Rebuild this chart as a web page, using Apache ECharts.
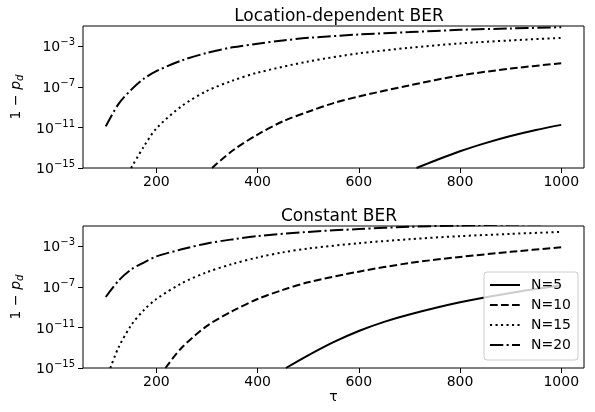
<!DOCTYPE html>
<html>
<head>
<meta charset="utf-8">
<script src="https://cdn.jsdelivr.net/npm/echarts@6/dist/echarts.min.js"></script>
<style>
  html, body { margin: 0; padding: 0; background: #fff; }
  #chart { width: 595px; height: 412px; }
</style>
</head>
<body>
<div id="chart"></div>
<script>
const seriesNames = ['N=5', 'N=10', 'N=15', 'N=20'];
const xTicks = [200, 400, 600, 800, 1000];
const yTicks = [1e-15, 1e-11, 1e-7, 1e-3];

// top panel: location-dependent BER
const tauLoc5 = [714, 750, 800, 850, 900, 950, 1000];
const berLoc5 = [1.0e-15, 5.2e-15, 4.47e-14, 2.82e-13, 1.41e-12, 5.62e-12, 1.78e-11];
const tauLoc10 = [310, 350, 400, 450, 500, 550, 600, 700, 800, 900, 1000];
const berLoc10 = [1.0e-15, 5.0e-14, 2.0e-12, 3.98e-11, 3.55e-10, 2.51e-9, 1.12e-8, 1.41e-7, 1.32e-6, 6.3e-6, 2.14e-5];
const tauLoc15 = [150, 175, 200, 250, 300, 350, 400, 500, 600, 700, 800, 900, 1000];
const berLoc15 = [1.0e-15, 1.26e-13, 7.9e-12, 1.26e-9, 3.98e-8, 3.98e-7, 2.51e-6, 3.16e-5, 2.0e-4, 7.08e-4, 1.91e-3, 3.8e-3, 6.76e-3];
const tauLoc20 = [100, 125, 150, 175, 200, 250, 300, 350, 400, 450, 500, 600, 700, 800, 900, 1000];
const berLoc20 = [1.26e-11, 2.0e-9, 5.0e-8, 6.3e-7, 3.55e-6, 3.98e-5, 2.24e-4, 7.9e-4, 1.78e-3, 3.72e-3, 6.76e-3, 1.45e-2, 2.51e-2, 4.17e-2, 5.75e-2, 7.59e-2];

// bottom panel: constant BER
const tauConst5 = [456, 500, 550, 600, 650, 700, 800, 900, 1000];
const berConst5 = [1.0e-15, 1.78e-14, 3.55e-13, 4.47e-12, 3.55e-11, 1.91e-10, 3.02e-9, 2.51e-8, 1.41e-7];
const tauConst10 = [218, 250, 300, 350, 400, 450, 500, 600, 700, 800, 900, 1000];
const berConst10 = [1.0e-15, 1.0e-13, 1.41e-11, 3.98e-10, 6.3e-9, 5.0e-8, 2.82e-7, 3.16e-6, 2.24e-5, 8.9e-5, 2.82e-4, 7.9e-4];
const tauConst15 = [109, 125, 150, 175, 200, 250, 300, 350, 400, 450, 500, 600, 700, 800, 900, 1000];
const berConst15 = [1.0e-15, 1.0e-13, 1.58e-11, 5.0e-10, 6.3e-9, 2.24e-7, 2.82e-6, 1.78e-5, 7.9e-5, 2.51e-4, 6.03e-4, 2.0e-3, 5.0e-3, 1.0e-2, 1.66e-2, 2.63e-2];
const tauConst20 = [100, 125, 150, 175, 200, 250, 300, 350, 400, 500, 600, 700, 800, 900, 1000];
const berConst20 = [1.0e-8, 3.98e-7, 5.0e-6, 2.51e-5, 1.0e-4, 5.0e-4, 1.91e-3, 4.79e-3, 1.0e-2, 2.63e-2, 5.0e-2, 8.3e-2, 0.112, 0.138, 0.162];

const FONT = 'DejaVu Sans';
const dashes = { 'N=5': 'solid', 'N=10': [7.7, 3.3], 'N=15': [2.1, 3.4], 'N=20': [13.3, 3.3, 2.1, 3.3] };

const zip = (xs, ys) => xs.map((x, i) => [x, ys[i]]);

const makeLine = (name, idx, xs, ys) => ({
  name: name,
  type: 'line',
  xAxisIndex: idx,
  yAxisIndex: idx,
  data: zip(xs, ys),
  symbol: 'none',
  smooth: 0.3,
  lineStyle: { color: '#000', width: 2, type: dashes[name] },
  itemStyle: { color: '#000' }
});

// 10^e, exponent as raised rich-text token
const expLabel = v => {
  const e = Math.round(Math.log10(v));
  return '{b|10}{sup|' + String(e).replace('-', '\u2212') + '}';
};

const xAxisFor = (idx, withName) => ({
  gridIndex: idx,
  type: 'value',
  min: 55,
  max: 1045,
  name: withName ? '\u03c4' : '',
  nameLocation: 'middle',
  nameGap: 12,
  nameTextStyle: { fontFamily: FONT, fontSize: 14, color: '#000' },
  splitLine: { show: false },
  axisLine: { show: false },
  axisTick: { show: true, inside: false, length: 5, lineStyle: { color: '#000' }, customValues: xTicks },
  axisLabel: { fontFamily: FONT, fontSize: 14, color: '#000', margin: 7, customValues: xTicks,
    formatter: v => String(v) }
});

const yAxisFor = idx => ({
  gridIndex: idx,
  type: 'log',
  logBase: 10,
  min: 1e-15,
  max: 1e-1,
  name: '{n|1 \u2212 }{i|p}{s|d}',
  nameLocation: 'middle',
  nameRotate: 90,
  nameGap: 40,
  nameTextStyle: {
    rich: {
      n: { fontFamily: FONT, fontSize: 14, color: '#000', lineHeight: 18, verticalAlign: 'middle' },
      i: { fontFamily: FONT, fontSize: 14, fontStyle: 'italic', color: '#000', lineHeight: 18, verticalAlign: 'middle' },
      s: { fontFamily: FONT, fontSize: 10, fontStyle: 'italic', color: '#000', lineHeight: 10, verticalAlign: 'bottom' }
    }
  },
  splitLine: { show: false },
  axisLine: { show: false },
  axisTick: { show: true, inside: false, length: 5, lineStyle: { color: '#000' }, customValues: yTicks },
  axisLabel: {
    margin: 8,
    customValues: yTicks,
    formatter: expLabel,
    fontFamily: FONT,
    fontSize: 14,
    color: '#000',
    rich: {
      b: { fontFamily: FONT, fontSize: 14, color: '#000', verticalAlign: 'bottom' },
      sup: { fontFamily: FONT, fontSize: 10, color: '#000', verticalAlign: 'bottom', padding: [0, 0, 7, 0] }
    }
  }
});

const chart = echarts.init(document.getElementById('chart'));

chart.setOption({
  backgroundColor: '#fff',
  animation: false,
  title: [
    { text: 'Location-dependent BER', left: 334, top: 3, textAlign: 'center',
      textStyle: { fontFamily: FONT, fontSize: 17, fontWeight: 'normal', color: '#000' } },
    { text: 'Constant BER', left: 334, top: 203, textAlign: 'center',
      textStyle: { fontFamily: FONT, fontSize: 17, fontWeight: 'normal', color: '#000' } }
  ],
  legend: {
    data: seriesNames,
    orient: 'vertical',
    left: 484,
    top: 272,
    padding: [6, 7, 8, 5],
    itemGap: 6,
    itemWidth: 30,
    itemHeight: 14,
    itemStyle: { opacity: 0 },
    backgroundColor: 'rgba(255,255,255,0.8)',
    borderColor: '#cccccc',
    borderWidth: 1,
    borderRadius: 3,
    textStyle: { fontFamily: FONT, fontSize: 14, color: '#000', padding: [0, 0, 0, 6] }
  },
  grid: [
    { left: 83, right: 11, top: 26, height: 142, show: true, borderColor: '#000', borderWidth: 1 },
    { left: 83, right: 11, top: 226, height: 142, show: true, borderColor: '#000', borderWidth: 1 }
  ],
  xAxis: [xAxisFor(0, false), xAxisFor(1, true)],
  yAxis: [yAxisFor(0), yAxisFor(1)],
  series: [
    makeLine('N=5', 0, tauLoc5, berLoc5),
    makeLine('N=10', 0, tauLoc10, berLoc10),
    makeLine('N=15', 0, tauLoc15, berLoc15),
    makeLine('N=20', 0, tauLoc20, berLoc20),
    makeLine('N=5', 1, tauConst5, berConst5),
    makeLine('N=10', 1, tauConst10, berConst10),
    makeLine('N=15', 1, tauConst15, berConst15),
    makeLine('N=20', 1, tauConst20, berConst20)
  ]
});
</script>
</body>
</html>
